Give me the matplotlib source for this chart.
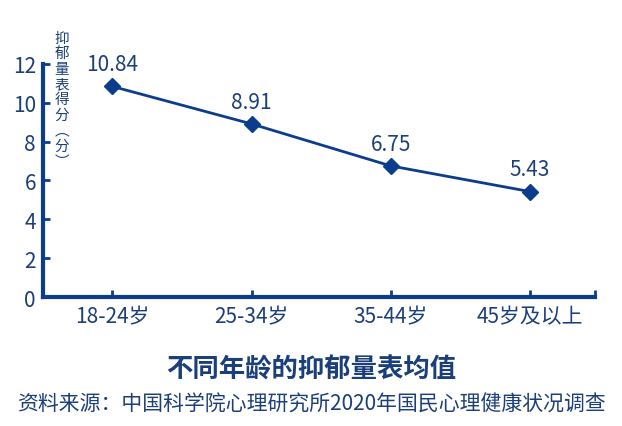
import matplotlib.pyplot as plt

plt.rcParams['font.family'] = ['Noto Sans CJK SC', 'DejaVu Sans']

# 数据
age_groups = ['18-24岁', '25-34岁', '35-44岁', '45岁及以上']
scores = [10.84, 8.91, 6.75, 5.43]
y_ticks = [0, 2, 4, 6, 8, 10, 12]

blue = '#0b3d8c'
text_blue = '#1b3f7a'

fig = plt.figure(figsize=(6.22, 4.27), dpi=100)
ax = fig.add_axes([0.069, 0.302, 0.888, 0.546])

x = list(range(len(age_groups)))
ax.plot(x, scores, color=blue, linewidth=2, marker='D', markersize=8, clip_on=False)
for xi, v in zip(x, scores):
    ax.text(xi, v + 0.58, f'{v:.2f}', ha='center', va='bottom', fontsize=15, color=text_blue)

ax.set_xlim(-0.5, 3.47)
ax.set_ylim(0, 12)
ax.set_yticks(y_ticks)
ax.set_xticks(x)
ax.set_xticklabels(age_groups)
ax.set_xticks([3.47], minor=True)

for side in ['top', 'right']:
    ax.spines[side].set_visible(False)
for side in ['left', 'bottom']:
    ax.spines[side].set_color(blue)
    ax.spines[side].set_linewidth(3)

ax.tick_params(axis='y', direction='in', length=5, width=2, color=blue,
               labelsize=15, labelcolor=text_blue, pad=5)
ax.tick_params(axis='x', which='both', direction='in', length=5, width=2, color=blue,
               labelsize=15, labelcolor=text_blue, pad=6)

# 纵向坐标轴标题
fig.text(0.099, 0.925, '抑\n郁\n量\n表\n得\n分\n︵\n分\n︶', ha='center', va='top',
         fontsize=10.5, color=text_blue, linespacing=1.12)

fig.text(0.5, 0.133, '不同年龄的抑郁量表均值', ha='center', va='center',
         fontsize=19, fontweight='bold', color=text_blue)
fig.text(0.5, 0.052, '资料来源：中国科学院心理研究所2020年国民心理健康状况调查', ha='center', va='center',
         fontsize=15, color=text_blue)

fig.savefig('out.png', dpi=100)
